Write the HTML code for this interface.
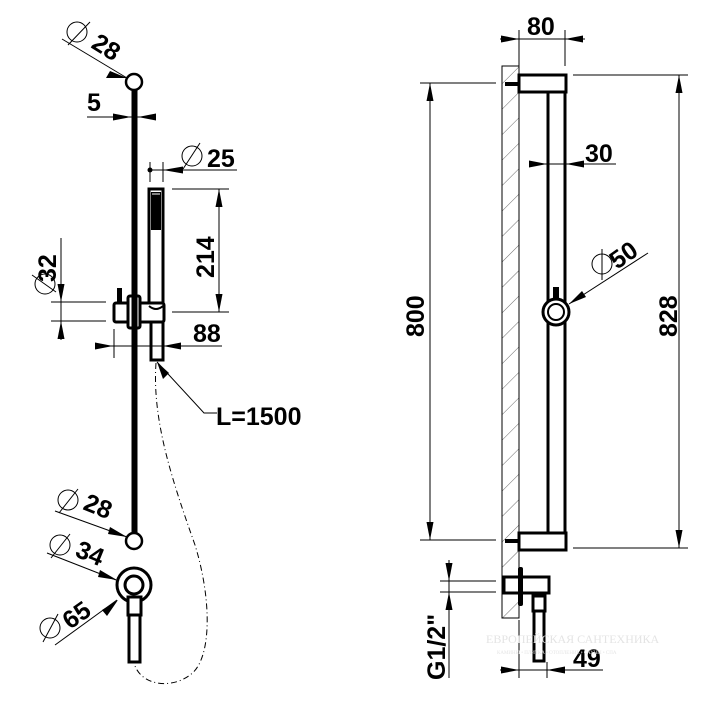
<!DOCTYPE html>
<html><head><meta charset="utf-8"><style>
html,body{margin:0;padding:0;background:#fff;width:714px;height:705px;overflow:hidden}
svg{display:block}
text{font-family:"Liberation Sans",sans-serif;font-weight:bold;fill:#000}
</style></head><body>
<svg width="714" height="705" viewBox="0 0 714 705" xmlns="http://www.w3.org/2000/svg">
<defs>
<pattern id="h" width="18" height="18" patternUnits="userSpaceOnUse" patternTransform="rotate(45)">
<line x1="0" y1="0" x2="0" y2="18" stroke="#444" stroke-width="0.8"/>
</pattern>
</defs>
<g stroke="#000" fill="none">
<line x1="134.5" y1="90" x2="134.5" y2="533" stroke-width="6"/>
<circle cx="134" cy="82" r="8" stroke-width="2.5" fill="#fff"/>
<circle cx="134" cy="541" r="8" stroke-width="2.5" fill="#fff"/>
<rect x="149" y="189" width="14" height="122" stroke-width="3"/>
<rect x="151" y="192" width="10" height="38" fill="#000" stroke="none"/>
<line x1="152" y1="194" x2="160" y2="194" stroke="#fff" stroke-width="1"/>
<rect x="114" y="303" width="50" height="19" rx="2" stroke-width="3" fill="#fff"/>
<rect x="128" y="296" width="12" height="32" rx="2" stroke-width="3" fill="#fff"/>
<line x1="134.5" y1="296" x2="134.5" y2="328" stroke-width="6"/>
<rect x="117" y="288" width="5" height="15" fill="#000" stroke="none"/>
<path d="M149 306 Q156 312 163 306" stroke-width="2"/>
<rect x="151" y="322" width="12" height="38" stroke-width="3" fill="#fff"/>
<circle cx="134" cy="585" r="17" stroke-width="3"/>
<circle cx="134" cy="585" r="9" stroke-width="3"/>
<rect x="128" y="597" width="13" height="18" stroke-width="3" fill="#fff"/>
<rect x="129" y="615" width="11" height="47" stroke-width="3" fill="#fff"/>
<path d="M156 363 C152 420 172 480 195 545 C212 600 212 660 190 675 C170 690 140 685 134 663" stroke-width="1" stroke-dasharray="6,3,1,3"/>
<g stroke-width="1">
<line x1="62" y1="39" x2="127" y2="78"/>
<line x1="87" y1="117" x2="155" y2="117"/>
<line x1="150" y1="162" x2="150" y2="182"/><line x1="163" y1="162" x2="163" y2="182"/>
<line x1="150" y1="170" x2="237" y2="170"/>
<line x1="172" y1="189" x2="229" y2="189"/><line x1="172" y1="312" x2="229" y2="312"/>
<line x1="219" y1="189" x2="219" y2="312"/>
<line x1="61" y1="238" x2="61" y2="340"/>
<line x1="51" y1="302" x2="106" y2="302"/><line x1="51" y1="321" x2="106" y2="321"/>
<line x1="114" y1="329" x2="114" y2="358"/><line x1="163" y1="329" x2="163" y2="358"/>
<line x1="95" y1="346" x2="222" y2="346"/>
<polyline points="157,362 204,413 217,413"/>
<line x1="55" y1="511" x2="127" y2="537"/>
<line x1="47" y1="553" x2="116" y2="580"/>
<line x1="55" y1="645" x2="117" y2="600"/>
<circle cx="77" cy="32" r="10"/><line x1="68" y1="45" x2="90" y2="22"/>
<circle cx="192" cy="156" r="10"/><line x1="183" y1="169" x2="200" y2="143"/>
<circle cx="45" cy="284" r="10"/><line x1="32" y1="275" x2="56" y2="292"/>
<circle cx="68" cy="500" r="10"/><line x1="59" y1="513" x2="78" y2="489"/>
<circle cx="60" cy="545" r="10"/><line x1="51" y1="558" x2="70" y2="534"/>
<circle cx="50" cy="628" r="10"/><line x1="43" y1="642" x2="58" y2="614"/>
</g>
<rect x="502" y="66" width="17" height="552" fill="url(#h)" stroke-width="1"/>
<rect x="519" y="75" width="47" height="17" stroke-width="3" fill="#fff"/>
<rect x="519" y="533" width="47" height="17" stroke-width="3" fill="#fff"/>
<line x1="505" y1="84" x2="519" y2="84" stroke-width="4"/>
<line x1="505" y1="541" x2="519" y2="541" stroke-width="4"/>
<line x1="548" y1="92" x2="548" y2="533" stroke-width="3"/>
<line x1="565" y1="92" x2="565" y2="533" stroke-width="3"/>
<rect x="553" y="287" width="6" height="14" fill="#000" stroke="none"/>
<circle cx="556" cy="312" r="13" stroke-width="3" fill="#fff"/>
<circle cx="556" cy="312" r="8" stroke-width="2"/>
<rect x="504" y="577" width="45" height="16" stroke-width="3" fill="#fff"/>
<rect x="518" y="567" width="5" height="39" rx="2" fill="#000" stroke="none"/>
<rect x="533" y="596" width="12" height="15" stroke-width="3" fill="#fff"/>
<rect x="534" y="611" width="10" height="50" stroke-width="3" fill="#fff"/>
<g stroke-width="1">
<line x1="519" y1="30" x2="519" y2="66"/><line x1="565" y1="30" x2="565" y2="66"/>
<line x1="500" y1="39" x2="585" y2="39"/>
<line x1="420" y1="83" x2="496" y2="83"/><line x1="420" y1="540" x2="496" y2="540"/>
<line x1="430" y1="83" x2="430" y2="540"/>
<line x1="573" y1="75" x2="688" y2="75"/><line x1="573" y1="548" x2="688" y2="548"/>
<line x1="679" y1="75" x2="679" y2="548"/>
<line x1="529" y1="164" x2="616" y2="164"/>
<line x1="648" y1="253" x2="569" y2="304"/>
<circle cx="602" cy="264" r="10"/><line x1="602" y1="249" x2="602" y2="280"/>
<line x1="449" y1="560" x2="449" y2="678"/>
<line x1="440" y1="581" x2="496" y2="581"/><line x1="440" y1="592" x2="496" y2="592"/>
<line x1="519" y1="620" x2="519" y2="678"/><line x1="547" y1="662" x2="547" y2="678"/>
<line x1="500" y1="670" x2="603" y2="670"/>
</g>
</g>
<g fill="#000">
<polygon points="127,78 110,71 106,78"/>
<polygon points="131,117 113,113.5 113,120.5"/><polygon points="138,117 156,113.5 156,120.5"/>
<polygon points="163,170 183,166.5 183,173.5"/>
<circle cx="150" cy="170" r="2.5"/>
<polygon points="219,189 215.5,207 222.5,207"/><polygon points="219,312 215.5,294 222.5,294"/>
<polygon points="61,302 57.5,284 64.5,284"/><polygon points="61,321 57.5,339 64.5,339"/>
<polygon points="113,346 95,342.5 95,349.5"/><polygon points="163,346 181,342.5 181,349.5"/>
<polygon points="157,362 163,379 169,373"/>
<polygon points="127,537 108,534 110,527"/>
<polygon points="117,580 98,577 100,570"/>
<polygon points="118,600 102,610 107,616"/>
<polygon points="519,39 501,35.5 501,42.5"/><polygon points="565,39 583,35.5 583,42.5"/>
<polygon points="430,83 426.5,101 433.5,101"/><polygon points="430,540 426.5,522 433.5,522"/>
<polygon points="679,75 675.5,93 682.5,93"/><polygon points="679,548 675.5,530 682.5,530"/>
<polygon points="547,164 529,160.5 529,167.5"/><polygon points="566,164 584,160.5 584,167.5"/>
<polygon points="569,304 582,291 586,297"/>
<polygon points="449,581 445.5,563 452.5,563"/><polygon points="449,592 445.5,610 452.5,610"/>
<polygon points="519,670 501,666.5 501,673.5"/><polygon points="547,670 565,666.5 565,673.5"/>
</g>
<g font-size="25">
<text transform="translate(90,47) rotate(32)">28</text>
<text x="87" y="111">5</text>
<text x="207" y="167">25</text>
<text transform="translate(214,278) rotate(-90)">214</text>
<text transform="translate(56,282) rotate(-90)">32</text>
<text x="193" y="342">88</text>
<text x="216" y="425">L=1500</text>
<text transform="translate(82,509) rotate(22)">28</text>
<text transform="translate(74,556) rotate(22)">34</text>
<text transform="translate(70,630) rotate(-35)">65</text>
<text x="527" y="35">80</text>
<text x="585" y="162">30</text>
<text transform="translate(617,270) rotate(-35)">50</text>
<text transform="translate(424,337) rotate(-90)">800</text>
<text transform="translate(677,337) rotate(-90)">828</text>
<text transform="translate(445,680) rotate(-90)">G1/2"</text>
<text x="573" y="667">49</text>
</g>
<text x="486" y="643" font-size="12" style="font-family:'Liberation Serif',serif;font-weight:normal;fill:#e4e4e4">ЕВРОПЕЙСКАЯ САНТЕХНИКА</text>
<text x="497" y="654" font-size="5" style="font-family:'Liberation Serif',serif;font-weight:normal;fill:#e4e4e4">КАМИНЫ • ПЛИТКА • ОТОПЛЕНИЕ • САУНЫ • СПА</text>
</svg>
</body></html>
